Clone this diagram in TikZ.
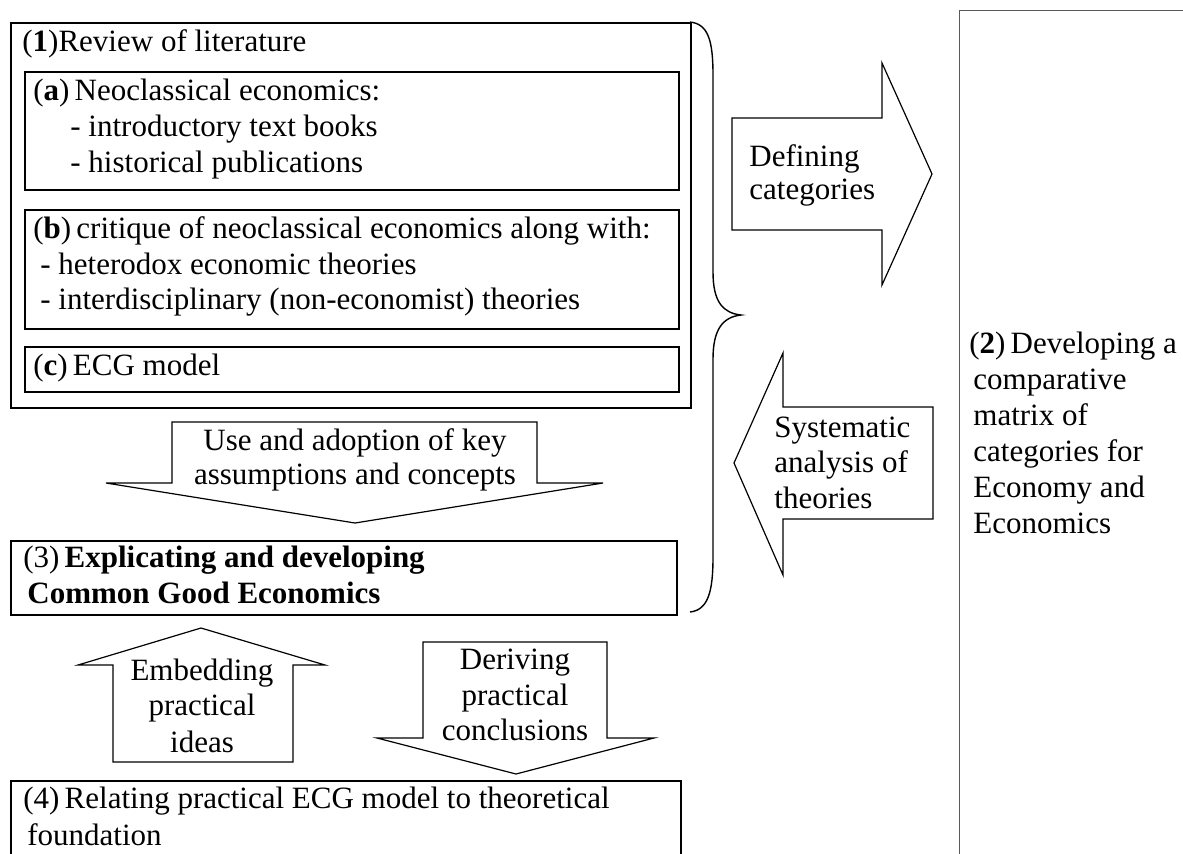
\documentclass[tikz,border=0pt]{standalone}
\usepackage{fontspec}
\setmainfont{Liberation Serif}
\begin{document}
\begin{tikzpicture}[x=0.5pt,y=-0.5pt,
  box/.style={draw, line width=1.1pt, anchor=north west, inner sep=0pt},
  thinbox/.style={draw=black!65, line width=0.7pt, anchor=north west, inner sep=0pt},
  txt/.style={anchor=base west, inner sep=0pt, font=\fontsize{15.5}{18}\selectfont},
  ctxt/.style={anchor=base, inner sep=0pt, font=\fontsize{15.5}{18}\selectfont},
  rtxt/.style={anchor=base west, inner sep=0pt, font=\fontsize{15.5}{18}\selectfont},
  bigarrow/.style={draw, line width=0.6pt, fill=white, line join=miter},
  bracepath/.style={draw, line width=0.7pt}
]
\useasboundingbox (0,0) rectangle (1183,853);
\fill[white] (0,0) rectangle (1183,853);

% box 2 (right)
\node[thinbox, minimum width=120pt, minimum height=430pt] (b2) at (959,10) {};
\node[rtxt] (t2a) at (969,353) {(\textbf{2})\,Developing a};
\node[rtxt] (t2b) at (973,389) {comparative};
\node[rtxt] (t2c) at (973,425) {matrix of};
\node[rtxt] (t2d) at (973,461) {categories for};
\node[rtxt] (t2e) at (973,497) {Economy and};
\node[rtxt] (t2f) at (973,533) {Economics};

% box 1
\node[box, minimum width=340pt, minimum height=192.5pt] (b1) at (10,22) {};
\node[txt] (t1) at (22,51) {(\textbf{1})Review of literature};

\node[box, minimum width=327pt, minimum height=59pt] (ba) at (24,71) {};
\node[txt] (ta1) at (33,100) {(\textbf{a})\,Neoclassical economics:};
\node[txt] (ta2) at (70,136) {- introductory text books};
\node[txt] (ta3) at (70,172) {- historical publications};

\node[box, minimum width=327pt, minimum height=59.5pt] (bb) at (24,209) {};
\node[txt] (tb1) at (33,238) {(\textbf{b})\,critique of neoclassical economics along with:};
\node[txt] (tb2) at (40,274) {- heterodox economic theories};
\node[txt] (tb3) at (40,309) {- interdisciplinary (non-economist) theories};

\node[box, minimum width=327pt, minimum height=22.5pt] (bc) at (24,346) {};
\node[txt] (tc) at (33,375) {(\textbf{c})\,ECG model};

% arrow: use and adoption
\draw[bigarrow] (172,422) -- (537,422) -- (537,483) -- (603,483) -- (355,523)
  -- (106,483) -- (172,483) -- cycle;
\node[ctxt] (tu1) at (355,450) {Use and adoption of key};
\node[ctxt] (tu2) at (355,484) {assumptions and concepts};

% box 3
\node[box, minimum width=333pt, minimum height=37pt] (b3) at (10,540) {};
\node[txt] (t3a) at (23,567) {(3)\,\textbf{Explicating and developing}};
\node[txt] (t3b) at (27,603) {\textbf{Common Good Economics}};

% arrow: embedding (up)
\draw[bigarrow] (113,762) -- (113,665) -- (78,665) -- (201,628) -- (325,665)
  -- (293,665) -- (293,762) -- cycle;
\node[ctxt] (te1) at (202,680) {Embedding};
\node[ctxt] (te2) at (202,715) {practical};
\node[ctxt] (te3) at (202,752) {ideas};

% arrow: deriving (down)
\draw[bigarrow] (423,642) -- (607,642) -- (607,738) -- (654,738) -- (516,774)
  -- (377,738) -- (423,738) -- cycle;
\node[ctxt] (td1) at (515,669) {Deriving};
\node[ctxt] (td2) at (515,705) {practical};
\node[ctxt] (td3) at (515,740) {conclusions};

% box 4
\node[box, minimum width=335pt, minimum height=50pt] (b4) at (10,780) {};
\node[txt] (t4a) at (23,808) {(4)\,Relating practical ECG model to theoretical};
\node[txt] (t4b) at (27,845) {foundation};

% brace
\coordinate (brtop) at (690,22);
\coordinate (brtip) at (741,315);
\coordinate (brbot) at (690,612);
\draw[bracepath] (brtop) .. controls (708,24) and (713,40) .. (713,75)
  -- (713,272) .. controls (713,302) and (723,313) .. (brtip)
  .. controls (723,317) and (713,329) .. (713,359)
  -- (713,557) .. controls (713,592) and (708,610) .. (brbot);

% arrow: defining categories (right)
\draw[bigarrow] (732,118) -- (882,118) -- (882,63) -- (932,174) -- (882,285)
  -- (882,230) -- (732,230) -- cycle;
\node[txt] (tdf1) at (749,166) {Defining};
\node[txt] (tdf2) at (749,199) {categories};

% arrow: systematic analysis (left)
\draw[bigarrow] (933,407) -- (783,407) -- (783,353) -- (734,463) -- (783,575)
  -- (783,519) -- (933,519) -- cycle;
\node[txt] (ts1) at (774,437) {Systematic};
\node[txt] (ts2) at (774,472) {analysis of};
\node[txt] (ts3) at (774,508) {theories};
\end{tikzpicture}
\end{document}
